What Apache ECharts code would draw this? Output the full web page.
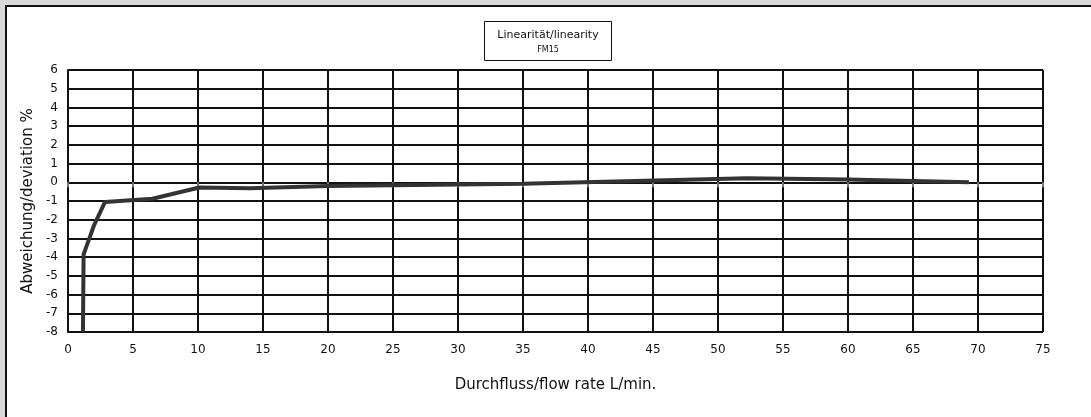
<!DOCTYPE html>
<html>
<head>
<meta charset="UTF-8">
<title>Linearität/linearity FM15</title>
<script type="text/javascript" src="https://cdn.jsdelivr.net/npm/echarts@6/dist/echarts.min.js"></script>
<style>
  html, body { margin: 0; padding: 0; background: #d9d9d9; }
</style>
</head>
<body>
<div id="box" style="width:1091px;height:417px;"></div>

<script type="text/javascript">
// Durchfluss L/min. und Abweichung %
var flow = [1.15, 1.2, 2.0, 2.85, 6.5, 10.1, 14.0, 20.0, 35.0, 52.2, 60.0, 69.3];
var deviation = [-8.0, -3.85, -2.3, -1.05, -0.88, -0.28, -0.32, -0.2, -0.08, 0.22, 0.15, 0.0];

var xTicks = { min: 0, max: 75, step: 5 };
var yTicks = { min: -8, max: 6, step: 1 };

var titleText = 'Linearität/linearity';
var subText = 'FM15';

var points = [];
for (var i = 0; i < flow.length; i++) {
  points.push([flow[i], deviation[i]]);
}

var font = '"DejaVu Sans", sans-serif';

var mychart = echarts.init(document.getElementById('box'));

mychart.setOption({
  backgroundColor: '#d9d9d9',
  animation: false,
  graphic: [{
    type: 'rect',
    z: -10,
    shape: { x: 6, y: 6, width: 1200, height: 500 },
    style: { fill: '#fff', stroke: '#111', lineWidth: 2 }
  }, {
    // Titelkasten
    type: 'group',
    left: 484,
    top: 21,
    children: [{
      type: 'rect',
      shape: { x: 0, y: 0, width: 127, height: 39 },
      style: { fill: '#fff', stroke: '#111', lineWidth: 1 }
    }, {
      type: 'text',
      x: 63.5, y: 14,
      style: { text: titleText, font: '11px ' + font, fill: '#111', align: 'center', verticalAlign: 'middle' }
    }, {
      type: 'text',
      x: 63.5, y: 28,
      style: { text: subText, font: '8px ' + font, fill: '#111', align: 'center', verticalAlign: 'middle' }
    }]
  }],
  grid: { left: 68, right: 48, top: 70, bottom: 85, containLabel: false },
  xAxis: {
    type: 'value',
    min: xTicks.min,
    max: xTicks.max,
    interval: xTicks.step,
    name: 'Durchfluss/flow rate L/min.',
    nameLocation: 'middle',
    nameGap: 46,
    nameTextStyle: { fontFamily: font, fontSize: 15, color: '#111' },
    axisLine: { lineStyle: { color: '#111', width: 2 } },
    axisTick: { show: true, length: 5, lineStyle: { color: '#777', width: 2 } },
    axisLabel: { fontFamily: font, fontSize: 12, color: '#111', margin: 12 },
    splitLine: { show: true, lineStyle: { color: '#111', width: 2 } }
  },
  yAxis: {
    type: 'value',
    min: yTicks.min,
    max: yTicks.max,
    interval: yTicks.step,
    name: 'Abweichung/deviation %',
    nameLocation: 'middle',
    nameGap: 31,
    nameTextStyle: { fontFamily: font, fontSize: 15, color: '#111' },
    axisLine: { show: true, lineStyle: { color: '#111', width: 2 } },
    axisTick: { show: false },
    axisLabel: { fontFamily: font, fontSize: 12, color: '#111', margin: 10 },
    splitLine: { show: true, lineStyle: { color: '#111', width: 2 } }
  },
  series: [{
    name: 'Linearität',
    type: 'line',
    data: points,
    symbol: 'none',
    smooth: false,
    lineStyle: { color: '#333', width: 4 }
  }]
});
</script>
</body>
</html>
